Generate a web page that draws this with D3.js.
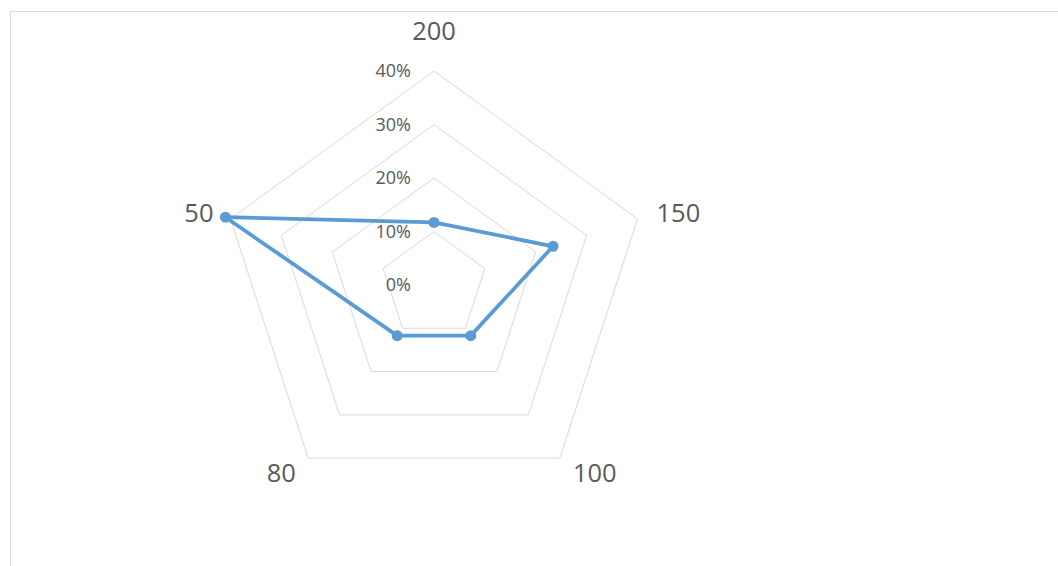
<!DOCTYPE html>
<html><head><meta charset="utf-8">
<script src="https://cdn.jsdelivr.net/npm/d3@7"></script>
<style>html,body{margin:0;padding:0;background:#fff;}svg{display:block;}</style>
</head><body>
<svg id="chart" width="1058" height="566"></svg>
<script>
const categories = ["200", "150", "100", "80", "50"];
const values = [0.117, 0.234, 0.117, 0.117, 0.41];
const tickValues = [0, 0.1, 0.2, 0.3, 0.4];
const tickLabels = ["0%", "10%", "20%", "30%", "40%"];

const svg = d3.select("#chart");
const W = 1058, H = 566;
const cx = 434, cy = 285, R = 214;
const font = "'Open Sans', 'Liberation Sans', sans-serif";

svg.append("rect").attr("x", 10.5).attr("y", 11.5).attr("width", W + 10).attr("height", H + 10)
  .attr("fill", "#fff").attr("stroke", "#d9d9d9").attr("stroke-width", 1);

const r = d3.scaleLinear().domain([0, 0.4]).range([0, R]);
const angle = d3.scaleBand().domain(categories).range([0, 2 * Math.PI]).align(0).paddingInner(0).paddingOuter(0);
const ang = c => angle(c);
const pt = (c, v) => [cx + r(v) * Math.sin(ang(c)), cy - r(v) * Math.cos(ang(c))];

const g = svg.append("g");
// rings
tickValues.filter(t => t > 0).forEach(t => {
  g.append("path")
    .attr("d", d3.line()(categories.map(c => pt(c, t))) + "Z")
    .attr("fill", "none").attr("stroke", "#d9d9d9").attr("stroke-width", 1);
});

// tick labels
svg.append("g").selectAll("text").data(tickValues).join("text")
  .attr("x", cx - 23).attr("y", d => cy - r(d))
  .attr("dy", "0.36em")
  .attr("text-anchor", "end")
  .attr("font-family", font).attr("font-size", 18).attr("fill", "#595959")
  .text((d, i) => tickLabels[i]);

// series line
const pts = categories.map((c, i) => pt(c, values[i]));
g.append("path").attr("d", d3.line()(pts) + "Z")
  .attr("fill", "none").attr("stroke", "#5b9bd5").attr("stroke-width", 3.75)
  .attr("stroke-linejoin", "round");
g.selectAll("circle").data(pts).join("circle")
  .attr("cx", d => d[0]).attr("cy", d => d[1]).attr("r", 5.5)
  .attr("fill", "#5b9bd5");

// category labels
const labelOffsets = {
  "200": {dx: 0, dy: -40, anchor: "middle"},
  "150": {dx: 19, dy: -6, anchor: "start"},
  "100": {dx: 35, dy: 15, anchor: "middle"},
  "80":  {dx: -27, dy: 15, anchor: "middle"},
  "50":  {dx: -17, dy: -6, anchor: "end"}
};
svg.append("g").selectAll("text").data(categories).join("text")
  .attr("x", c => pt(c, 0.4)[0] + labelOffsets[c].dx)
  .attr("y", c => pt(c, 0.4)[1] + labelOffsets[c].dy)
  .attr("dy", "0.36em")
  .attr("text-anchor", c => labelOffsets[c].anchor)
  .attr("font-family", font).attr("font-size", 25.5).attr("fill", "#595959")
  .text(c => c);
</script>
</body></html>
